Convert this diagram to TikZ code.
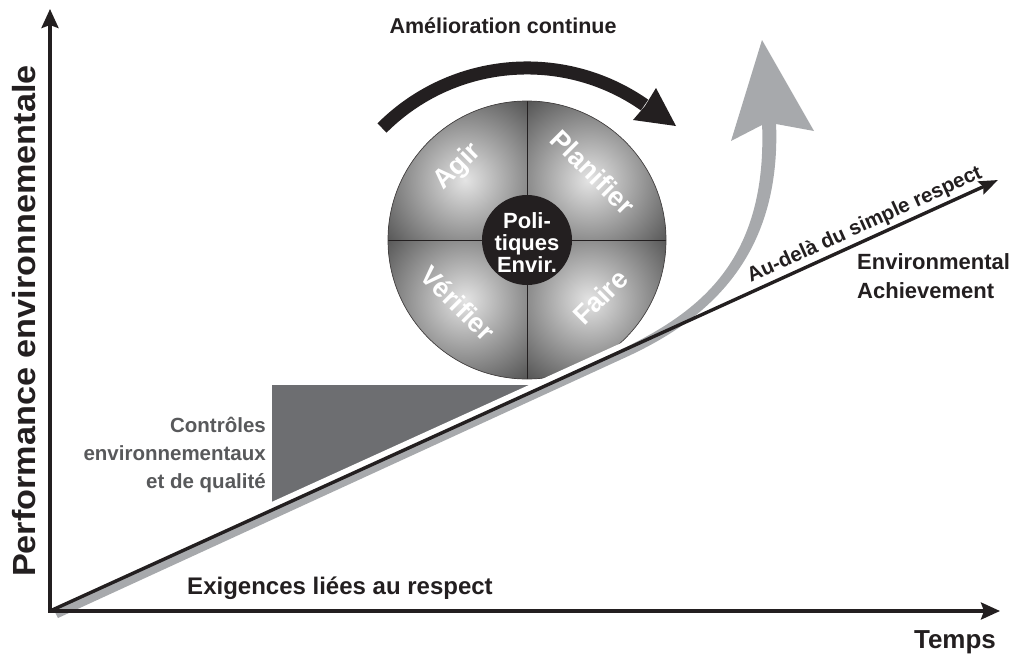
\documentclass[tikz,border=0pt]{standalone}
\usepackage{graphicx}
\usepackage{fontspec}
\setmainfont{Liberation Sans}
\usetikzlibrary{arrows.meta,calc}

\definecolor{ink}{HTML}{231F20}
\definecolor{bandgray}{HTML}{A7A9AC}
\definecolor{wedgegray}{HTML}{6D6E71}
\definecolor{ctrltext}{HTML}{58595B}
\definecolor{discdark}{HTML}{555555}
\definecolor{disclight}{HTML}{E4E4E4}

\newcommand\setfs[1]{\fontsize{#1}{#1}\selectfont}

\tikzset{
  bigtip/.tip={Stealth[length=19pt,width=17pt,inset=3pt]},
  linetip/.tip={Stealth[length=19pt,width=14pt,inset=3pt]}
}

\begin{document}
\begin{tikzpicture}[x=1pt,y=-1pt,
  lbl/.style={text=ink, inner sep=0pt},
  disclbl/.style={text=white, inner sep=0pt, font=\setfs{27}\bfseries},
  axisline/.style={draw=ink, line width=3.4pt, line join=miter},
  divider/.style={draw=ink, line width=0.8pt}]
\useasboundingbox (0,0) rectangle (1021,654);

% reference points
\coordinate (O) at (50,611);
\coordinate (Ytip) at (50,9);
\coordinate (Xtip) at (1000,611);
\coordinate (Ltip) at (998,180);
\coordinate (C) at (527,240);
\coordinate (N) at (527,101);
\coordinate (S) at (527,379);
\coordinate (W) at (388,240);
\coordinate (E) at (666,240);

% grey wedge for quality controls
\fill[wedgegray] (272,385) -- (532,385) -- (272,507) -- cycle;

% PDCA disc: four shaded quadrants
\foreach \sx/\sy in {-1/-1,1/-1,-1/1,1/1}{
  \begin{scope}
    \clip (C) circle (139);
    \clip (C) rectangle ++(\sx*141,\sy*141);
    \fill[discdark] (C) circle (139);
    \shade[inner color=disclight, outer color=discdark] ($(C)+(\sx*62,\sy*60)$) circle (100);
  \end{scope}
}
\draw[divider] (N) -- (S);
\draw[divider] (W) -- (E);
\draw[draw=ink!85, line width=0.7pt] (C) circle (139);
\fill[ink] (C) circle (45);

% white clearance along the compliance line
\draw[white, line width=15pt] (O) -- (Ltip);

% grey band rising into the big arrow
\fill[bandgray] (54,610) -- (618,351)
  .. controls (698,313) and (768,262) .. (762,122)
  -- (776,122)
  .. controls (782,262) and (702,323) .. (622,359)
  -- (58,618) -- cycle;
\fill[bandgray] (762,40) -- (814,131) -- (776,124) -- (762,125) -- (731,141) -- cycle;

% continual improvement arrow
\coordinate (ArcS) at (382,128);
\draw[ink, line width=13pt] (ArcS) arc[start angle=-135, end angle=-55, radius=205];
\fill[ink] (656,88) -- (676,126) -- (633,120) -- (645,106) -- cycle;

% compliance line and axes
\draw[axisline, -{linetip}] (O) -- (Ltip);
\draw[axisline, {bigtip}-{bigtip}] (Ytip) -- (O) -- (Xtip);

% labels
\node[lbl, font=\setfs{21.5}\bfseries, anchor=base] (title) at (503,33) {Amélioration continue};
\node[lbl, font=\setfs{32}\bfseries, rotate=90, anchor=base] (ylab) at (35,321)
  {\scalebox{1.07}[1]{Performance environnementale}};
\node[lbl, font=\setfs{26}\bfseries, anchor=base] (temps) at (955,648) {Temps};
\node[lbl, font=\setfs{24}\bfseries, anchor=base] (exig) at (340,594) {Exigences liées au respect};
\node[lbl, text=ctrltext, font=\setfs{20.5}\bfseries, anchor=base east] (ctl1) at (266,432) {Contrôles};
\node[lbl, text=ctrltext, font=\setfs{20.5}\bfseries, anchor=base east] (ctl2) at (266,460) {environnementaux};
\node[lbl, text=ctrltext, font=\setfs{20.5}\bfseries, anchor=base east] (ctl3) at (266,488) {et de qualité};
\node[lbl, font=\setfs{22}\bfseries, anchor=base west] (env1) at (857,269) {Environmental};
\node[lbl, font=\setfs{22}\bfseries, anchor=base west] (env2) at (857,298) {Achievement};
\node[lbl, font=\setfs{20.5}\bfseries, rotate=24.46, anchor=base] (beyond) at (867,230) {Au-delà du simple respect};

% disc labels
\node[disclbl, rotate=45] (agir) at (458,167) {Agir};
\node[disclbl, rotate=-45] (plan) at (593,172) {Planifier};
\node[disclbl, rotate=-45] (verif) at (458,303) {Vérifier};
\node[disclbl, rotate=45] (faire) at (600,297) {Faire};
\node[text=white, inner sep=0pt, align=center, font=\fontsize{22}{22}\selectfont\bfseries] (pol) at (527,243)
  {Poli-\\tiques\\Envir.};
\end{tikzpicture}
\end{document}
